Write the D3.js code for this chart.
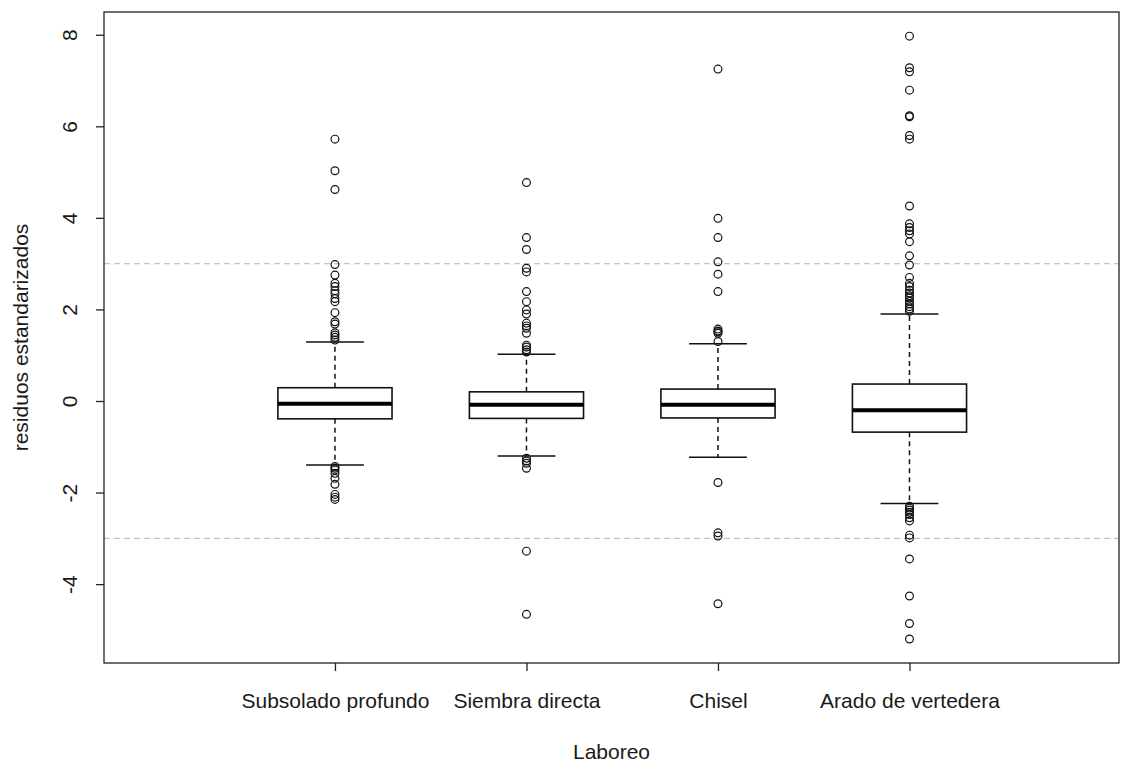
<!DOCTYPE html>
<html>
<head>
<meta charset="utf-8">
<script src="https://cdn.jsdelivr.net/npm/d3@7"></script>
<style>
  html, body { margin: 0; padding: 0; background: #fff; }
  svg { display: block; }
  text { font-family: "Liberation Sans", Arial, Helvetica, sans-serif; fill: #1a1a1a; }
</style>
</head>
<body>
<svg id="chart" width="1133" height="765"></svg>
<script>
// Tillage treatments on the x axis
const categories = ["Subsolado profundo", "Siembra directa", "Chisel", "Arado de vertedera"];

// Five-number summaries per treatment: [lower whisker, Q1, median, Q3, upper whisker]
const statsSubsolado = [-1.40, -0.39, -0.06, 0.29, 1.29];
const statsSiembra   = [-1.20, -0.38, -0.08, 0.20, 1.02];
const statsChisel    = [-1.23, -0.37, -0.08, 0.26, 1.25];
const statsArado     = [-2.24, -0.68, -0.20, 0.37, 1.90];

// Outlying standardized residuals per treatment
const outSubsolado = [5.72, 5.03, 4.62, 2.98, 2.75, 2.57, 2.50, 2.41, 2.34, 2.24, 2.17, 1.93,
  1.73, 1.68, 1.49, 1.44, 1.39, 1.33,
  -1.43, -1.47, -1.51, -1.58, -1.69, -1.82, -2.04, -2.10, -2.15];
const outSiembra = [4.77, 3.57, 3.31, 2.90, 2.82, 2.39, 2.17, 1.99, 1.90, 1.70, 1.64, 1.59, 1.48,
  1.22, 1.18, 1.12, 1.07,
  -1.25, -1.31, -1.36, -1.47, -3.28, -4.66];
const outChisel = [7.25, 3.99, 3.57, 3.04, 2.77, 2.39, 1.57, 1.53, 1.51, 1.48, 1.30,
  -1.78, -2.88, -2.95, -4.43];
const outArado = [7.97, 7.28, 7.19, 6.79, 6.23, 6.21, 5.80, 5.72, 4.26, 3.87, 3.79, 3.72, 3.65,
  3.48, 3.17, 2.97, 2.70, 2.57, 2.50, 2.42, 2.36, 2.30, 2.25, 2.18, 2.12, 2.06, 2.01, 1.96,
  -2.30, -2.34, -2.38, -2.43, -2.48, -2.55, -2.62, -2.93, -2.99, -3.45, -4.26, -4.86, -5.20];

// Axis ticks and reference lines
const yTicks = [-4, -2, 0, 2, 4, 6, 8];
const refLines = [-3, 3];

const groups = categories.map((name, i) => ({
  name,
  pos: i + 1,
  stats: [statsSubsolado, statsSiembra, statsChisel, statsArado][i],
  out: [outSubsolado, outSiembra, outChisel, outArado][i]
}));

const plot = { left: 104, right: 1119, top: 12, bottom: 663 };
const fontSize = "21px";
const svg = d3.select("#chart");

const x = d3.scaleLinear().domain([-0.206, 5.094]).range([plot.left, plot.right]);
const y = d3.scaleLinear().domain([-5.723, 8.497]).range([plot.bottom, plot.top]);

const boxHalf = 0.298;   // half box width, in category units
const capHalf = 0.151;   // half staple width

// Horizontal dashed reference lines at +/- 3
svg.append("g").selectAll("line").data(refLines).join("line")
  .attr("x1", plot.left).attr("x2", plot.right)
  .attr("y1", d => y(d)).attr("y2", d => y(d))
  .attr("stroke", "#c4c4c4").attr("stroke-width", 1.2)
  .attr("stroke-dasharray", "6,4");

const g = svg.append("g").selectAll("g").data(groups).join("g");

// Whiskers (dashed)
g.append("line")
  .attr("x1", d => x(d.pos)).attr("x2", d => x(d.pos))
  .attr("y1", d => y(d.stats[3])).attr("y2", d => y(d.stats[4]))
  .attr("stroke", "#111").attr("stroke-width", 1.5).attr("stroke-dasharray", "5,4");
g.append("line")
  .attr("x1", d => x(d.pos)).attr("x2", d => x(d.pos))
  .attr("y1", d => y(d.stats[1])).attr("y2", d => y(d.stats[0]))
  .attr("stroke", "#111").attr("stroke-width", 1.5).attr("stroke-dasharray", "5,4");

// Staples
[0, 4].forEach(k => {
  g.append("line")
    .attr("x1", d => x(d.pos - capHalf)).attr("x2", d => x(d.pos + capHalf))
    .attr("y1", d => y(d.stats[k])).attr("y2", d => y(d.stats[k]))
    .attr("stroke", "#111").attr("stroke-width", 1.5);
});

// Boxes
g.append("rect")
  .attr("x", d => x(d.pos - boxHalf))
  .attr("width", d => x(d.pos + boxHalf) - x(d.pos - boxHalf))
  .attr("y", d => y(d.stats[3]))
  .attr("height", d => y(d.stats[1]) - y(d.stats[3]))
  .attr("fill", "#fff").attr("stroke", "#111").attr("stroke-width", 1.6);

// Medians
g.append("line")
  .attr("x1", d => x(d.pos - boxHalf)).attr("x2", d => x(d.pos + boxHalf))
  .attr("y1", d => y(d.stats[2])).attr("y2", d => y(d.stats[2]))
  .attr("stroke", "#000").attr("stroke-width", 4);

// Outliers
g.selectAll("circle").data(d => d.out.map(v => ({ pos: d.pos, v }))).join("circle")
  .attr("cx", d => x(d.pos)).attr("cy", d => y(d.v)).attr("r", 3.9)
  .attr("fill", "none").attr("stroke", "#111").attr("stroke-width", 1.2);

// Plot frame
svg.append("rect")
  .attr("x", plot.left).attr("y", plot.top)
  .attr("width", plot.right - plot.left).attr("height", plot.bottom - plot.top)
  .attr("fill", "none").attr("stroke", "#222").attr("stroke-width", 1.3);

// Y axis (plain hyphen for negatives)
const yAxis = svg.append("g")
  .attr("transform", `translate(${plot.left},0)`)
  .call(d3.axisLeft(y).tickValues(yTicks).tickSize(8).tickFormat(v => String(v)));
yAxis.select(".domain").remove();
yAxis.selectAll(".tick line").attr("stroke", "#222").attr("stroke-width", 1.3);
yAxis.selectAll(".tick text")
  .attr("x", null).attr("dy", null)
  .attr("text-anchor", "middle")
  .attr("transform", "translate(-27,0) rotate(-90)")
  .style("font-size", fontSize)
  .style("font-family", "'Liberation Sans', Arial, sans-serif")
  .attr("fill", "#1a1a1a");

// X axis
const xAxis = svg.append("g")
  .attr("transform", `translate(0,${plot.bottom})`)
  .call(d3.axisBottom(x).tickValues(groups.map(d => d.pos)).tickSize(8)
    .tickFormat(v => categories[v - 1]));
xAxis.select(".domain").remove();
xAxis.selectAll(".tick line").attr("stroke", "#222").attr("stroke-width", 1.3);
xAxis.selectAll(".tick text")
  .attr("y", 45).attr("dy", null)
  .style("font-size", fontSize)
  .style("font-family", "'Liberation Sans', Arial, sans-serif")
  .attr("fill", "#1a1a1a");

// Axis titles
svg.append("text")
  .attr("x", (plot.left + plot.right) / 2).attr("y", 759)
  .attr("text-anchor", "middle").style("font-size", fontSize)
  .text("Laboreo");
svg.append("text")
  .attr("transform", `translate(28,${(plot.top + plot.bottom) / 2}) rotate(-90)`)
  .attr("text-anchor", "middle").style("font-size", fontSize)
  .text("residuos estandarizados");
</script>
</body>
</html>
